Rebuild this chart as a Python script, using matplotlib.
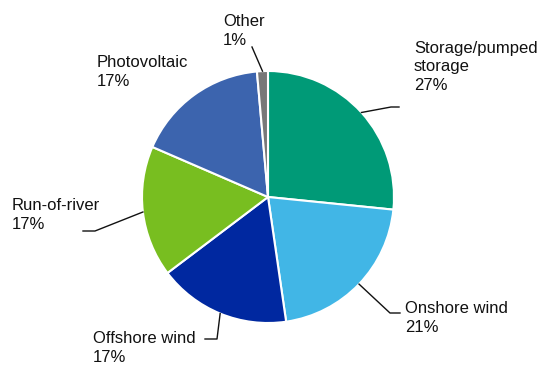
import numpy as np
import matplotlib
matplotlib.use('Agg')
import matplotlib.pyplot as plt

plt.rcParams['font.family'] = ['Liberation Sans', 'DejaVu Sans']

# data
labels = ['Storage/pumped\nstorage', 'Onshore wind', 'Offshore wind',
          'Run-of-river', 'Photovoltaic', 'Other']
shares = [26.6, 21.1, 17.0, 16.8, 17.1, 1.4]
colors = ['#009a77', '#41b6e6', '#0028a0', '#78be20', '#3c64ae', '#787878']

W, H = 541, 366
fig = plt.figure(figsize=(W / 100, H / 100), dpi=100)
ax = fig.add_axes([0, 0, 1, 1])

cx, cy, r = 268, H - 197, 126
wedges, _ = ax.pie(shares, colors=colors, startangle=90, counterclock=False,
                   center=(cx, cy), radius=r,
                   wedgeprops=dict(edgecolor='white', linewidth=1.5))
ax.set_xlim(0, W)
ax.set_ylim(0, H)
ax.set_aspect('equal')
ax.axis('off')

# label layout (pixel coords from top-left): text x, text center y, leader elbow, leader end
layout = [
    ((414, 67), (391, 107), (399, 107)),
    ((405, 318), (390, 313), (400, 313)),
    ((93, 348), (217, 339), (205, 339)),
    ((12, 215), (95, 231), (83, 231)),
    ((97, 72), None, None),
    ((223, 31), (252, 47), None),
]

for w, lab, s, (tpos, elbow, end) in zip(wedges, labels, shares, layout):
    ax.text(tpos[0], H - tpos[1], f'{lab}\n{round(s):d}%', ha='left', va='center',
            fontsize=12, color='#111111', linespacing=1.3)
    if elbow is None:
        continue
    ang = np.deg2rad((w.theta1 + w.theta2) / 2)
    xs = [cx + r * np.cos(ang), elbow[0]]
    ys = [cy + r * np.sin(ang), H - elbow[1]]
    if end is not None:
        xs.append(end[0])
        ys.append(H - end[1])
    ax.plot(xs, ys, color='#111111', lw=1)

fig.savefig('out.png', dpi=100)
